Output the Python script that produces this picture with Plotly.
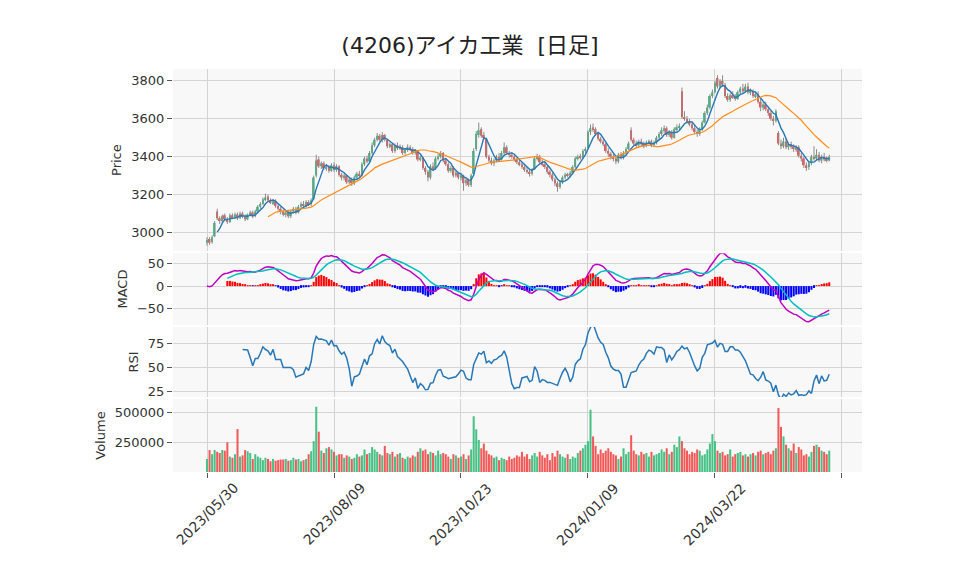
import numpy as np
import pandas as pd
import plotly.graph_objects as go
from plotly.subplots import make_subplots

title_text = "(4206)アイカ工業  [日足]"
tick_index = [0, 50, 100, 150, 200, 250]
tick_labels = ["2023/05/30", "2023/08/09", "2023/10/23", "2024/01/09", "2024/03/22", ""]

open_ = [
    2945, 2965, 2950, 2980, 3110, 3075, 3060, 3090, 3070, 3055,
    3090, 3080, 3095, 3075, 3100, 3085, 3070, 3095, 3105, 3085,
    3110, 3135, 3150, 3175, 3190, 3170, 3155, 3165, 3140, 3125,
    3110, 3095, 3105, 3085, 3110, 3125, 3105, 3135, 3150, 3140,
    3160, 3150, 3175, 3300, 3385, 3350, 3365, 3340, 3345, 3325,
    3355, 3330, 3350, 3305, 3290, 3300, 3265, 3280, 3260, 3290,
    3310, 3300, 3360, 3390, 3375, 3420, 3460, 3490, 3510, 3490,
    3515, 3490, 3455, 3465, 3430, 3460, 3445, 3450, 3420, 3435,
    3450, 3440, 3420, 3430, 3385, 3395, 3340, 3320, 3290, 3350,
    3340, 3390, 3400, 3420, 3380, 3360, 3325, 3340, 3300, 3315,
    3290, 3300, 3260, 3275, 3250, 3310, 3440, 3515, 3545, 3515,
    3495, 3400, 3380, 3365, 3380, 3400, 3385, 3420, 3450, 3420,
    3410, 3400, 3385, 3370, 3360, 3345, 3330, 3320, 3310, 3335,
    3390, 3400, 3370, 3360, 3345, 3320, 3305, 3280, 3260, 3240,
    3265, 3290, 3305, 3300, 3315, 3345, 3390, 3400, 3395, 3430,
    3445, 3530, 3555, 3545, 3520, 3495, 3480, 3465, 3430, 3415,
    3400, 3390, 3375, 3410, 3395, 3420, 3440, 3540, 3490, 3470,
    3460, 3480, 3465, 3460, 3475, 3480, 3460, 3475, 3500, 3520,
    3540, 3550, 3515, 3530, 3500, 3545, 3555, 3745, 3610, 3600,
    3585, 3570, 3550, 3530, 3520, 3545, 3580, 3630, 3660, 3720,
    3740, 3815, 3770, 3800, 3780, 3720, 3700, 3725, 3715, 3705,
    3740, 3760, 3745, 3770, 3740, 3745, 3720, 3730, 3690, 3660,
    3675, 3650, 3630, 3600, 3590, 3525, 3470, 3455, 3480, 3450,
    3465, 3455, 3440, 3450, 3405, 3390, 3355, 3345, 3365, 3400,
    3390, 3410, 3380, 3400, 3385, 3380,
]
high = [
    2975, 2975, 2985, 3060, 3125, 3085, 3095, 3100, 3080, 3100,
    3100, 3105, 3105, 3110, 3110, 3095, 3100, 3115, 3115, 3120,
    3145, 3160, 3185, 3205, 3200, 3180, 3175, 3175, 3150, 3135,
    3120, 3115, 3115, 3120, 3135, 3135, 3145, 3160, 3165, 3170,
    3170, 3180, 3300, 3410, 3400, 3375, 3375, 3360, 3355, 3365,
    3370, 3360, 3355, 3315, 3310, 3305, 3290, 3290, 3300, 3320,
    3325, 3370, 3400, 3405, 3430, 3475, 3500, 3525, 3520, 3530,
    3520, 3495, 3475, 3470, 3470, 3475, 3465, 3460, 3445, 3465,
    3460, 3450, 3440, 3435, 3405, 3400, 3350, 3330, 3360, 3370,
    3400, 3415, 3430, 3425, 3390, 3370, 3350, 3350, 3325, 3320,
    3310, 3305, 3285, 3285, 3310, 3445, 3535, 3580, 3555, 3530,
    3500, 3410, 3395, 3390, 3410, 3420, 3430, 3475, 3460, 3430,
    3425, 3410, 3395, 3385, 3370, 3355, 3345, 3330, 3340, 3400,
    3415, 3410, 3385, 3370, 3355, 3330, 3315, 3290, 3270, 3275,
    3300, 3315, 3315, 3325, 3355, 3400, 3410, 3415, 3440, 3450,
    3540, 3570, 3575, 3555, 3530, 3505, 3490, 3475, 3445, 3425,
    3415, 3400, 3420, 3425, 3430, 3450, 3480, 3555, 3500, 3485,
    3490, 3495, 3480, 3485, 3490, 3490, 3485, 3510, 3530, 3555,
    3565, 3560, 3540, 3540, 3555, 3570, 3575, 3765, 3640, 3615,
    3600, 3580, 3565, 3545, 3555, 3590, 3640, 3675, 3730, 3755,
    3800, 3830, 3810, 3830, 3790, 3735, 3735, 3745, 3730, 3750,
    3770, 3785, 3785, 3790, 3760, 3755, 3745, 3745, 3705, 3690,
    3690, 3665, 3640, 3615, 3650, 3535, 3490, 3500, 3495, 3475,
    3480, 3465, 3460, 3460, 3420, 3400, 3370, 3375, 3410, 3455,
    3440, 3425, 3410, 3420, 3400, 3410,
]
low = [
    2930, 2935, 2940, 2975, 3065, 3045, 3050, 3060, 3045, 3050,
    3070, 3070, 3065, 3070, 3075, 3060, 3065, 3085, 3075, 3080,
    3100, 3125, 3145, 3165, 3160, 3150, 3145, 3130, 3115, 3095,
    3085, 3080, 3075, 3075, 3100, 3095, 3100, 3125, 3130, 3130,
    3140, 3140, 3170, 3290, 3340, 3335, 3330, 3325, 3315, 3320,
    3320, 3320, 3295, 3275, 3275, 3255, 3255, 3245, 3250, 3280,
    3290, 3295, 3350, 3365, 3365, 3410, 3450, 3480, 3480, 3475,
    3480, 3445, 3445, 3420, 3420, 3435, 3435, 3410, 3410, 3425,
    3430, 3410, 3410, 3375, 3375, 3330, 3305, 3270, 3280, 3330,
    3330, 3380, 3390, 3370, 3350, 3315, 3315, 3290, 3290, 3280,
    3275, 3220, 3245, 3240, 3240, 3300, 3430, 3500, 3500, 3490,
    3390, 3370, 3355, 3350, 3370, 3375, 3380, 3410, 3410, 3395,
    3390, 3375, 3360, 3350, 3335, 3320, 3310, 3295, 3300, 3330,
    3380, 3360, 3350, 3335, 3310, 3290, 3270, 3245, 3215, 3230,
    3255, 3280, 3290, 3290, 3305, 3340, 3380, 3385, 3390, 3420,
    3440, 3515, 3530, 3510, 3485, 3470, 3455, 3420, 3400, 3385,
    3375, 3360, 3365, 3385, 3385, 3410, 3435, 3480, 3460, 3445,
    3445, 3455, 3445, 3450, 3465, 3450, 3450, 3465, 3490, 3510,
    3525, 3505, 3505, 3490, 3495, 3535, 3540, 3600, 3590, 3575,
    3560, 3540, 3520, 3505, 3510, 3535, 3575, 3620, 3650, 3710,
    3735, 3760, 3760, 3770, 3710, 3690, 3690, 3705, 3695, 3700,
    3730, 3735, 3740, 3730, 3725, 3710, 3710, 3680, 3640, 3645,
    3640, 3615, 3590, 3565, 3580, 3460, 3440, 3445, 3440, 3435,
    3440, 3425, 3425, 3395, 3375, 3340, 3325, 3330, 3355, 3380,
    3380, 3370, 3365, 3375, 3370, 3375,
]
close_ = [
    2960, 2945, 2975, 3050, 3075, 3060, 3085, 3070, 3055, 3090,
    3080, 3095, 3075, 3100, 3085, 3070, 3095, 3105, 3085, 3110,
    3135, 3150, 3175, 3185, 3170, 3160, 3165, 3140, 3125, 3110,
    3095, 3105, 3085, 3110, 3125, 3105, 3135, 3150, 3140, 3160,
    3150, 3170, 3290, 3380, 3350, 3365, 3340, 3345, 3325, 3355,
    3330, 3350, 3305, 3290, 3300, 3265, 3280, 3260, 3290, 3310,
    3300, 3360, 3390, 3375, 3420, 3460, 3490, 3510, 3490, 3515,
    3490, 3455, 3465, 3430, 3460, 3445, 3450, 3420, 3435, 3450,
    3440, 3420, 3430, 3385, 3395, 3340, 3320, 3290, 3350, 3340,
    3390, 3400, 3420, 3380, 3360, 3325, 3340, 3300, 3315, 3290,
    3300, 3260, 3275, 3250, 3300, 3430, 3520, 3540, 3510, 3500,
    3400, 3380, 3365, 3380, 3400, 3385, 3420, 3450, 3420, 3410,
    3400, 3385, 3370, 3360, 3345, 3330, 3320, 3310, 3335, 3390,
    3400, 3370, 3360, 3345, 3320, 3305, 3280, 3260, 3240, 3265,
    3290, 3305, 3300, 3315, 3345, 3390, 3400, 3395, 3430, 3440,
    3530, 3550, 3545, 3520, 3495, 3480, 3465, 3430, 3415, 3400,
    3390, 3375, 3410, 3395, 3420, 3440, 3470, 3490, 3470, 3460,
    3480, 3465, 3460, 3475, 3480, 3460, 3475, 3500, 3520, 3540,
    3550, 3515, 3530, 3500, 3545, 3555, 3560, 3610, 3600, 3585,
    3570, 3550, 3530, 3520, 3545, 3580, 3630, 3660, 3720, 3740,
    3790, 3770, 3800, 3780, 3720, 3700, 3725, 3715, 3705, 3740,
    3760, 3745, 3770, 3740, 3745, 3720, 3730, 3690, 3660, 3675,
    3650, 3630, 3600, 3590, 3640, 3470, 3455, 3480, 3450, 3465,
    3455, 3440, 3450, 3405, 3390, 3355, 3345, 3365, 3400, 3390,
    3410, 3380, 3400, 3385, 3380, 3400,
]
volume = [
    110000, 185000, 150000, 185000, 170000, 160000, 185000, 180000, 250000, 130000,
    120000, 150000, 362000, 130000, 140000, 185000, 175000, 160000, 110000, 150000,
    130000, 120000, 100000, 120000, 110000, 90000, 110000, 95000, 100000, 105000,
    105000, 110000, 95000, 100000, 120000, 105000, 110000, 90000, 100000, 110000,
    150000, 175000, 260000, 550000, 340000, 180000, 160000, 200000, 210000, 190000,
    170000, 140000, 150000, 150000, 120000, 140000, 130000, 110000, 120000, 150000,
    130000, 140000, 190000, 150000, 160000, 210000, 190000, 170000, 150000, 140000,
    220000, 160000, 150000, 170000, 130000, 150000, 160000, 120000, 110000, 130000,
    120000, 140000, 130000, 170000, 200000, 180000, 190000, 150000, 170000, 160000,
    140000, 180000, 150000, 160000, 150000, 130000, 110000, 150000, 140000, 120000,
    130000, 150000, 110000, 140000, 190000, 470000, 360000, 270000, 200000, 240000,
    180000, 150000, 140000, 120000, 130000, 100000, 120000, 110000, 100000, 130000,
    110000, 120000, 140000, 130000, 170000, 130000, 150000, 110000, 140000, 160000,
    130000, 170000, 140000, 120000, 150000, 100000, 160000, 130000, 180000, 150000,
    130000, 120000, 150000, 110000, 130000, 120000, 160000, 180000, 200000, 230000,
    260000, 525000, 300000, 220000, 150000, 190000, 160000, 180000, 200000, 170000,
    150000, 140000, 110000, 130000, 200000, 150000, 170000, 310000, 180000, 150000,
    140000, 170000, 150000, 160000, 130000, 170000, 140000, 150000, 160000, 190000,
    170000, 200000, 150000, 170000, 230000, 210000, 300000, 260000, 200000, 180000,
    150000, 170000, 160000, 190000, 180000, 140000, 150000, 190000, 240000, 320000,
    260000, 180000, 160000, 170000, 140000, 150000, 190000, 130000, 150000, 160000,
    170000, 140000, 150000, 130000, 150000, 160000, 140000, 170000, 180000, 150000,
    160000, 170000, 150000, 180000, 200000, 540000, 380000, 300000, 230000, 200000,
    180000, 240000, 160000, 210000, 190000, 140000, 150000, 130000, 170000, 220000,
    230000, 210000, 180000, 170000, 150000, 180000,
]

UP = "#47c185"
DOWN = "#f25a5a"
WICK = "#8a8a8a"
GRID = "#d4d4d4"
BG = "#f8f8f8"

df = pd.DataFrame({"open": open_, "high": high, "low": low, "close": close_, "volume": volume})
x = np.arange(len(df))
c = df["close"]
ma5 = c.rolling(5).mean()
ma25 = c.rolling(25).mean()
ema12 = c.ewm(span=12, adjust=False).mean()
ema26 = c.ewm(span=26, adjust=False).mean()
macd = ema12 - ema26
signal = macd.ewm(span=9, adjust=False).mean()
signal[:8] = np.nan
hist = macd - signal
delta = c.diff()
gain = delta.clip(lower=0).rolling(14).mean()
loss = (-delta.clip(upper=0)).rolling(14).mean()
rsi = 100 - 100 / (1 + gain / loss)

up = df["close"] >= df["open"]
body_base = np.minimum(df["open"], df["close"])
body_h = np.maximum(np.abs(df["close"] - df["open"]), 3)
colors = np.where(up, UP, DOWN)

wx, wy = [], []
for i in range(len(df)):
    wx += [i, i, None]
    wy += [df["low"][i], df["high"][i], None]

fig = make_subplots(rows=4, cols=1, shared_xaxes=True, vertical_spacing=0.005)

fig.add_trace(go.Scatter(x=wx, y=wy, mode="lines", line=dict(color=WICK, width=1), hoverinfo="skip"), row=1, col=1)
fig.add_trace(go.Bar(x=x, y=body_h, base=body_base, marker=dict(color=colors, line=dict(width=0)), width=0.7), row=1, col=1)
fig.add_trace(go.Scatter(x=x, y=ma5, mode="lines", line=dict(color="#2878b8", width=1.4)), row=1, col=1)
fig.add_trace(go.Scatter(x=x, y=ma25, mode="lines", line=dict(color="#ff8c1a", width=1.2)), row=1, col=1)

hist_colors = np.where(hist >= 0, "#ff0000", "#0000ff")
fig.add_trace(go.Bar(x=x, y=hist, marker=dict(color=hist_colors, line=dict(width=0)), width=0.8), row=2, col=1)
fig.add_trace(go.Scatter(x=x, y=macd, mode="lines", line=dict(color="#c000c0", width=1.5)), row=2, col=1)
fig.add_trace(go.Scatter(x=x, y=signal, mode="lines", line=dict(color="#00bfbf", width=1.5)), row=2, col=1)

fig.add_trace(go.Scatter(x=x, y=rsi, mode="lines", line=dict(color="#2878b8", width=1.5)), row=3, col=1)

fig.add_trace(go.Bar(x=x, y=df["volume"], marker=dict(color=colors, line=dict(width=0)), width=0.8), row=4, col=1)

font = "DejaVu Sans, Noto Sans CJK JP, sans-serif"
fig.update_layout(
    width=958, height=575,
    margin=dict(l=165, r=104, t=61, b=111, autoexpand=False),
    paper_bgcolor="white", plot_bgcolor=BG,
    showlegend=False, barmode="overlay",
    font=dict(family=font, size=13, color="#333333"),
    title=dict(text=title_text, xref="paper", x=0.431, xanchor="center",
               yref="container", y=1 - 37 / 575, yanchor="middle",
               font=dict(family="DejaVu Sans, Noto Sans CJK JP", size=22, color="#222222")),
)

xr = [-13.4, 257.9]
for r in range(1, 5):
    fig.update_xaxes(range=xr, tickvals=tick_index, showgrid=True, automargin=False, showticklabels=False,
                     gridcolor=GRID, gridwidth=1.2, zeroline=False, showline=False, row=r, col=1)
for r in range(1, 4):
    fig.update_xaxes(ticks="", row=r, col=1)
fig.update_xaxes(ticks="outside", ticklen=5, tickcolor="#555555", row=4, col=1)

# centred, rotated date labels under each tick
for xi, lab in zip(tick_index, tick_labels):
    if lab:
        fig.add_annotation(x=xi, xref="x4", y=-0.104, yref="paper", text=lab, textangle=-45,
                           showarrow=False, xanchor="center", yanchor="middle",
                           font=dict(size=14, color="#333333"))

common_y = dict(showgrid=True, gridcolor=GRID, gridwidth=1.2, zeroline=False, showline=False, automargin=False,
                ticks="outside", ticklen=5, tickcolor="#555555", title_font=dict(size=13), title_standoff=6)
fig.update_yaxes(range=[2901, 3863], tickvals=[3000, 3200, 3400, 3600, 3800], title_text="Price",
                 domain=[0.548, 1.0], row=1, col=1, **common_y)
fig.update_yaxes(range=[-85, 72], tickvals=[-50, 0, 50], title_text="MACD",
                 domain=[0.365, 0.543], row=2, col=1, **common_y)
fig.update_yaxes(range=[19.5, 92], tickvals=[25, 50, 75], title_text="RSI",
                 domain=[0.186, 0.360], row=3, col=1, **common_y)
fig.update_yaxes(range=[0, 615000], tickvals=[250000, 500000], tickformat="d", title_text="Volume",
                 domain=[0.0, 0.181], row=4, col=1, **common_y)

fig.write_html("out.html")
